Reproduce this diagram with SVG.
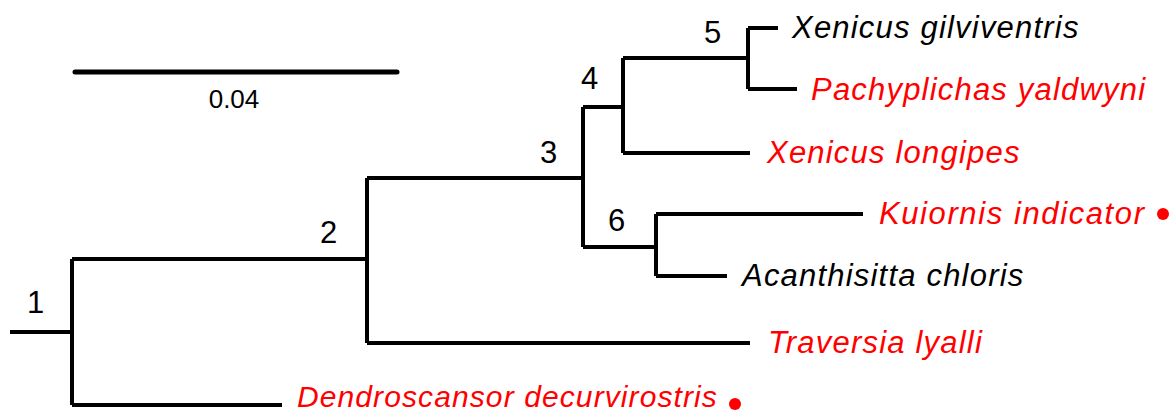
<svg xmlns="http://www.w3.org/2000/svg" width="1174" height="414" viewBox="0 0 1174 414">
<style>
.br{fill:none;stroke:#000;stroke-width:4;stroke-linecap:butt;stroke-linejoin:miter}
.tip{font-family:"Liberation Sans",Arial,sans-serif;font-style:italic;font-size:31px;letter-spacing:1.2px}
.red{fill:#ff0000}
.blk{fill:#000}
.nl{font-family:"Liberation Sans",Arial,sans-serif;font-size:31px;fill:#000}
</style>
<rect width="1174" height="414" fill="#fff"/>
<g id="scale">
<line x1="75" y1="72" x2="397" y2="72" stroke="#000" stroke-width="5" stroke-linecap="round"/>
<text x="234" y="108" text-anchor="middle" font-family="Liberation Sans,Arial,sans-serif" font-size="26">0.04</text>
</g>
<g id="connectors">
<path class="br" d="M10 332H72"/>
<path class="br" d="M72 259V405M72 259H367M72 405H282"/>
<path class="br" d="M367 178V343M367 178H583M367 343H750"/>
<path class="br" d="M583 107V247M583 107H623M583 247H656"/>
<path class="br" d="M623 58V153M623 58H748M623 153H750"/>
<path class="br" d="M748 28V89M748 28H778M748 89H797"/>
<path class="br" d="M656 214V276M656 214H863M656 276H727"/>
</g>
<g id="node1"><text class="nl" x="27" y="313">1</text></g>
<g id="node2"><text class="nl" x="320" y="243">2</text></g>
<g id="node3"><text class="nl" x="540" y="163">3</text></g>
<g id="node4"><text class="nl" x="581" y="89">4</text></g>
<g id="node5"><text class="nl" x="704" y="43">5</text></g>
<g id="node6"><text class="nl" x="608" y="231">6</text></g>
<g id="tip-xg"><text class="tip blk" x="792" y="38">Xenicus gilviventris</text></g>
<g id="tip-py"><text class="tip red" x="811" y="100">Pachyplichas yaldwyni</text></g>
<g id="tip-xl"><text class="tip red" x="767" y="163">Xenicus longipes</text></g>
<g id="tip-ki"><text class="tip red" x="879" y="224" style="letter-spacing:1.6px">Kuiornis indicator</text><circle class="red" cx="1163" cy="214" r="6"/></g>
<g id="tip-ac"><text class="tip blk" x="742" y="286">Acanthisitta chloris</text></g>
<g id="tip-tl"><text class="tip red" x="768" y="353">Traversia lyalli</text></g>
<g id="tip-dd"><text class="tip red" x="297" y="407" style="font-size:30px;letter-spacing:1.1px">Dendroscansor decurvirostris</text><circle class="red" cx="735" cy="404" r="6"/></g>
</svg>
